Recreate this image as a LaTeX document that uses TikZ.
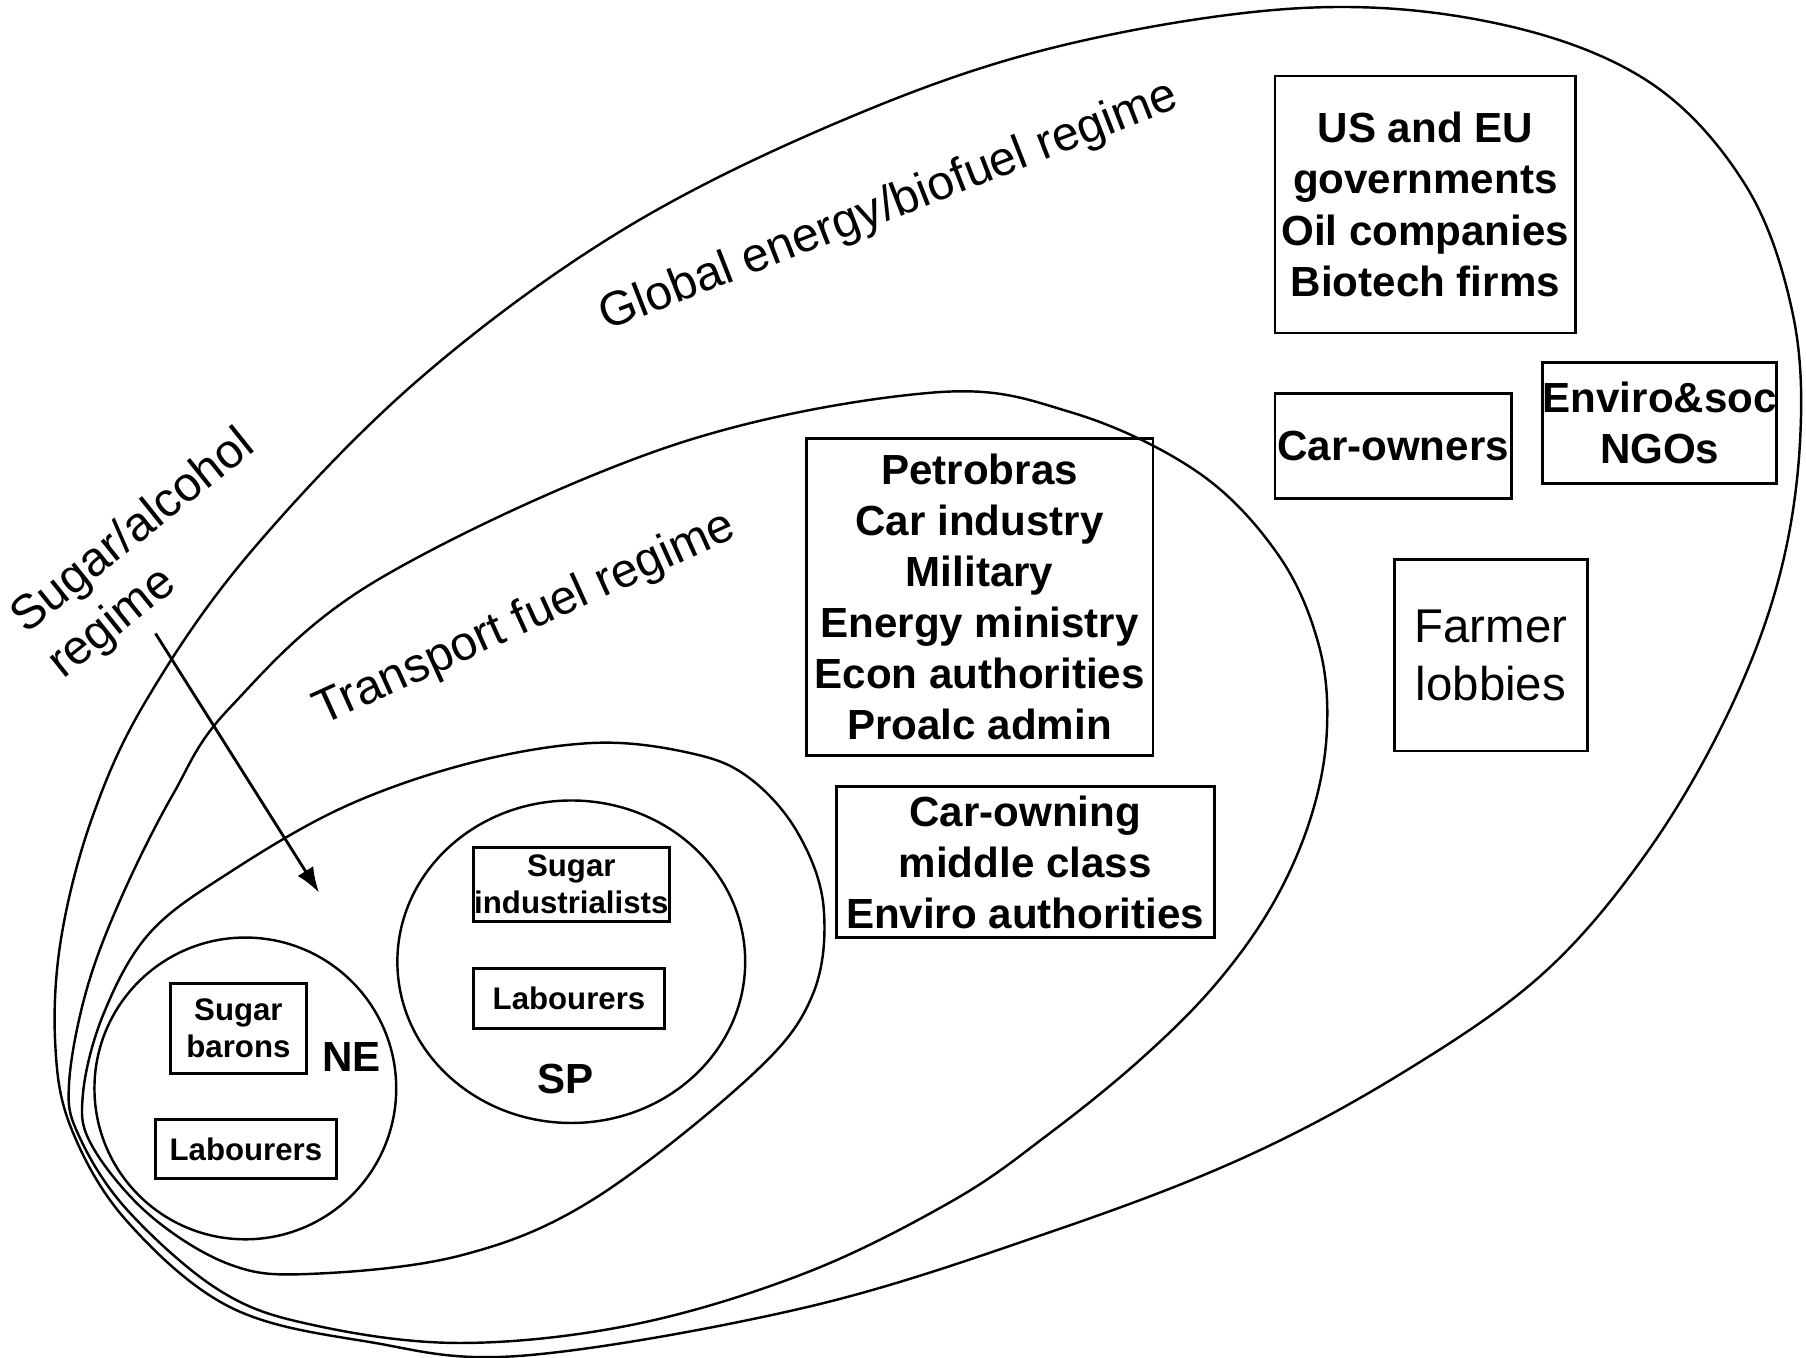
\documentclass[tikz,border=0pt]{standalone}
\usepackage{fontspec}
\setmainfont{Liberation Sans}
\usetikzlibrary{arrows.meta}
\begin{document}
\begin{tikzpicture}[x=0.01cm,y=-0.01cm,
  line width=0.6pt,
  regime/.style={line width=0.6pt},
  bx/.style={draw, line width=0.7pt, inner sep=0pt, align=center, font=\fontsize{10.4pt}{12.6pt}\selectfont\bfseries},
  sbx/.style={draw, line width=0.7pt, inner sep=0pt, align=center, font=\fontsize{7.7pt}{9.1pt}\selectfont\bfseries},
  lab/.style={font=\fontsize{11.9pt}{14.5pt}\selectfont, inner sep=0pt},
  tag/.style={font=\fontsize{10.4pt}{12.6pt}\selectfont\bfseries, inner sep=0pt}
]
\useasboundingbox (0,0) rectangle (1568,1179);

% Global energy/biofuel regime
\draw[regime] plot[smooth cycle, tension=0.6] coordinates {
 (1130,7) (1298,20) (1430,70) (1515,160) (1556,270) (1563,380) (1545,500) (1500,620)
 (1430,740) (1340,845) (1220,930) (1080,1005) (911,1070) (700,1135) (454,1177)
 (320,1165) (200,1135) (110,1060) (62,980) (48,907) (53,815) (80,710) (127,608)
 (217,480) (363,330) (540,200) (735,103) (920,40)};

% Transport fuel regime
\draw[regime] plot[smooth cycle, tension=0.6] coordinates {
 (808,341) (930,358) (1040,410) (1110,482) (1145,560) (1152,635) (1138,710)
 (1105,785) (1055,855) (990,920) (910,985) (828,1042) (700,1105) (550,1150)
 (399,1166) (270,1150) (190,1120) (110,1050) (68,985) (60,940) (75,860) (105,780)
 (150,690) (200,614) (327,504) (580,388)};

% Sugar/alcohol regime
\draw[regime] plot[smooth cycle, tension=0.6] coordinates {
 (516,645) (600,654) (650,675) (692,722) (715,787) (705,865) (651,935) (514,1042)
 (400,1090) (270,1106) (200,1098) (130,1055) (80,995) (72,950) (90,880) (130,810)
 (200,757) (300,700) (410,662)};

% NE and SP circles
\draw[regime] (213,945) circle[radius=131];
\draw[regime] (496,835) circle[x radius=151, y radius=140];

% Regime labels
\node[lab, rotate=21.3] (glob) at (772,180) {Global energy/biofuel regime};
\node[lab, rotate=24.4] (trans) at (456,538) {Transport fuel regime};
\node[lab, rotate=38.7, align=left] (sugreg) at (132,482) {Sugar/alcohol\\regime};

% Boxes
\node[bx, minimum width=2.61cm, minimum height=2.23cm] (usbox) at (1237.5,177.5)
  {US and EU\\governments\\Oil companies\\Biotech firms};
\node[bx, minimum width=2.05cm, minimum height=0.91cm] (carown) at (1209.5,387.5) {Car-owners};
\node[bx, minimum width=1.98cm, minimum height=1.05cm] (ngo) at (1441,367.5) {Enviro\&soc\\NGOs};
\node[draw, line width=0.7pt, inner sep=0pt, align=center, font=\fontsize{11.7pt}{14.5pt}\selectfont,
  minimum width=1.67cm, minimum height=1.66cm] (farmer) at (1294.5,569) {Farmer\\lobbies};
\node[bx, minimum width=3.01cm, minimum height=2.75cm] (petro) at (850.5,518.5)
  {Petrobras\\Car industry\\Military\\Energy ministry\\Econ authorities\\Proalc admin};
\node[bx, minimum width=3.28cm, minimum height=1.31cm] (middle) at (890,748.5)
  {Car-owning\\middle class\\Enviro authorities};
\node[sbx, minimum width=1.70cm, minimum height=0.64cm] (sugind) at (496,768) {Sugar\\industrialists};
\node[sbx, minimum width=1.66cm, minimum height=0.52cm] (labsp) at (494,867) {Labourers};
\node[sbx, minimum width=1.18cm, minimum height=0.78cm] (barons) at (207,893) {Sugar\\barons};
\node[sbx, minimum width=1.57cm, minimum height=0.51cm] (labne) at (213.5,997.5) {Labourers};
\node[tag] (ne) at (305,918) {NE};
\node[tag] (sp) at (491,937) {SP};

% Arrow
\coordinate (arrS) at (135,550);
\coordinate (arrE) at (277,775);
\draw[line width=0.7pt, -{Latex[length=2.2mm,width=1.6mm]}] (arrS) -- (arrE);
\end{tikzpicture}
\end{document}
